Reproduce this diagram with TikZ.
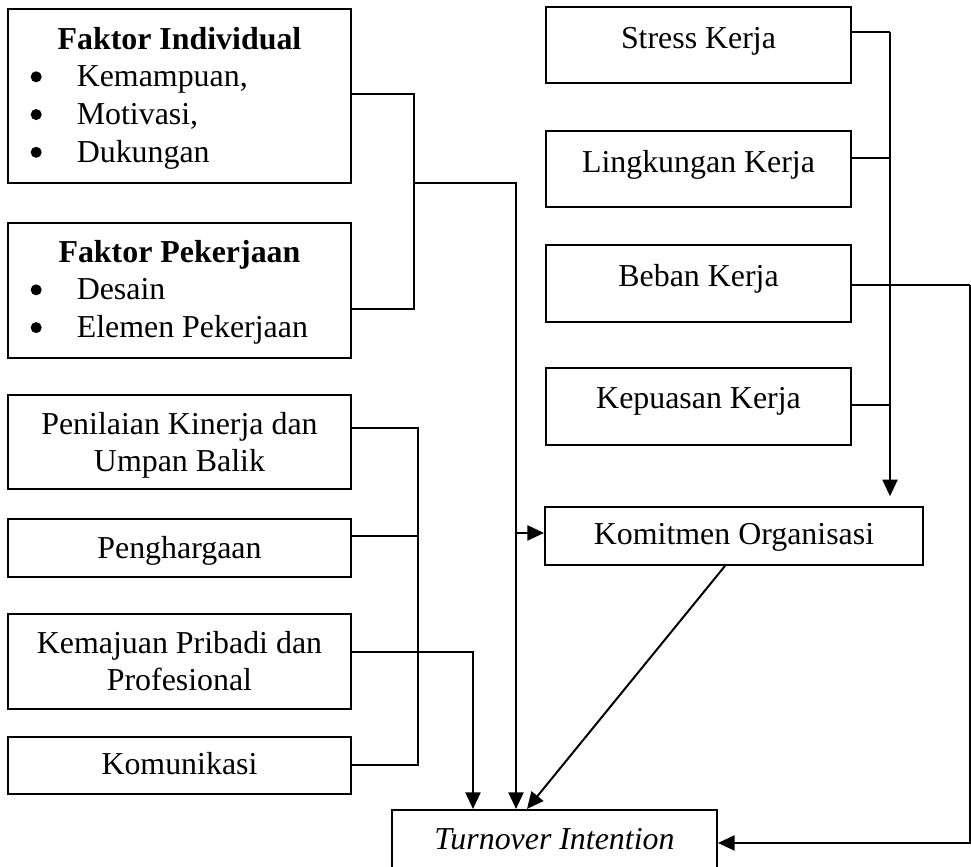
\documentclass[tikz,border=0pt]{standalone}
\usepackage{fontspec}
\setmainfont{Liberation Serif}
\usetikzlibrary{arrows.meta}

\newcommand{\judul}[1]{\makebox[\linewidth]{\textbf{#1}}}
\newcommand{\butir}[1]{\hspace*{0.30cm}\makebox[0.61cm][l]{\tikz[baseline=0pt]\fill (0.073,0.132) circle (0.073);}#1}

\begin{document}
\begin{tikzpicture}[
    font=\fontsize{12}{14.2}\selectfont,
    kotak/.style={draw, line width=0.75pt, inner sep=0pt, align=center},
    kiri/.style={kotak, minimum width=4.535cm},
    kanan/.style={kotak, minimum width=4.033cm},
    garis/.style={line width=0.75pt},
    panah/.style={garis, -{Triangle[length=0.22cm, width=0.2cm]}}
]
\useasboundingbox (0,0) rectangle (12.839,11.463);

% === FAKTOR (left) ===
\node[kiri, text width=4.535cm, align=flush left, text height=0.529cm, text depth=1.772cm] (indiv) at (2.373,10.193)
    {\judul{Faktor Individual}\\ \butir{Kemampuan,}\\ \butir{Motivasi,}\\ \butir{Dukungan}};
\node[kiri, text width=4.535cm, align=flush left, text height=0.516cm, text depth=1.269cm] (pekerjaan) at (2.373,7.621)
    {\judul{Faktor Pekerjaan}\\ \butir{Desain}\\ \butir{Elemen Pekerjaan}};

\node[kiri, text height=1.018cm, text depth=0.225cm] (penilaian) at (2.373,5.619) {Penilaian Kinerja dan\\Umpan Balik};
\node[kiri, text height=0.516cm, text depth=0.251cm] (penghargaan) at (2.373,4.217) {Penghargaan};
\node[kiri, text height=1.018cm, text depth=0.238cm] (kemajuan) at (2.373,2.717) {Kemajuan Pribadi dan\\Profesional};
\node[kiri, text height=0.502cm, text depth=0.251cm] (komunikasi) at (2.373,1.342) {Komunikasi};

% === KERJA (right) ===
\node[kanan, text height=0.542cm, text depth=0.463cm] (stress) at (9.236,10.867) {Stress Kerja};
\node[kanan, text height=0.542cm, text depth=0.463cm] (lingkungan) at (9.236,9.228) {Lingkungan Kerja};
\node[kanan, text height=0.542cm, text depth=0.476cm] (beban) at (9.236,7.714) {Beban Kerja};
\node[kanan, text height=0.529cm, text depth=0.489cm] (kepuasan) at (9.236,6.088) {Kepuasan Kerja};

\node[kotak, minimum width=4.998cm, text height=0.502cm, text depth=0.264cm] (komitmen) at (9.705,4.376) {Komitmen Organisasi};
\node[kotak, minimum width=4.297cm, text height=0.529cm, text depth=0.344cm] (turnover) at (7.332,0.317) {\textit{Turnover Intention}};

% Faktor individual + pekerjaan
\coordinate (s1) at (5.474,10.221);
\coordinate (s2) at (5.474,7.378);
\coordinate (s3) at (5.474,9.044);
\coordinate (s4) at (6.823,9.044);
\coordinate (s5) at (6.823,4.416);
\draw[garis] (indiv.east |- s1) -- (s1) -- (s2) -- (pekerjaan.east |- s2);
\draw[panah] (s3) -- (s4) -- (s4 |- turnover.north);
\draw[panah] (s5) -- (komitmen.west |- s5);

% Penilaian, penghargaan, komunikasi
\coordinate (t1) at (5.527,5.804);
\coordinate (t2) at (5.527,4.376);
\coordinate (t3) at (5.527,1.349);
\draw[garis] (penilaian.east |- t1) -- (t1) -- (t3) -- (komunikasi.east |- t3);
\draw[garis] (penghargaan.east |- t2) -- (t2);

% Kemajuan
\coordinate (t4) at (6.254,2.843);
\draw[panah] (kemajuan.east |- t4) -- (t4) -- (t4 |- turnover.north);

% Stress, lingkungan, kepuasan -> komitmen
\coordinate (r1) at (11.768,11.040);
\coordinate (r2) at (11.768,9.374);
\coordinate (r3) at (11.768,6.109);
\draw[garis] (stress.east |- r1) -- (r1);
\draw[garis] (lingkungan.east |- r2) -- (r2);
\draw[garis] (kepuasan.east |- r3) -- (r3);
\draw[panah, shorten >=0.13cm] (r1) -- (r1 |- komitmen.north);

% Beban -> turnover
\coordinate (r4) at (12.825,7.695);
\draw[garis] (beban.east |- r4) -- (r4);
\draw[panah] (r4) |- (turnover.east);

% Komitmen -> turnover
\draw[panah] ([xshift=-0.119cm]komitmen.south) -- ([xshift=-0.364cm]turnover.north);

\end{tikzpicture}
\end{document}
